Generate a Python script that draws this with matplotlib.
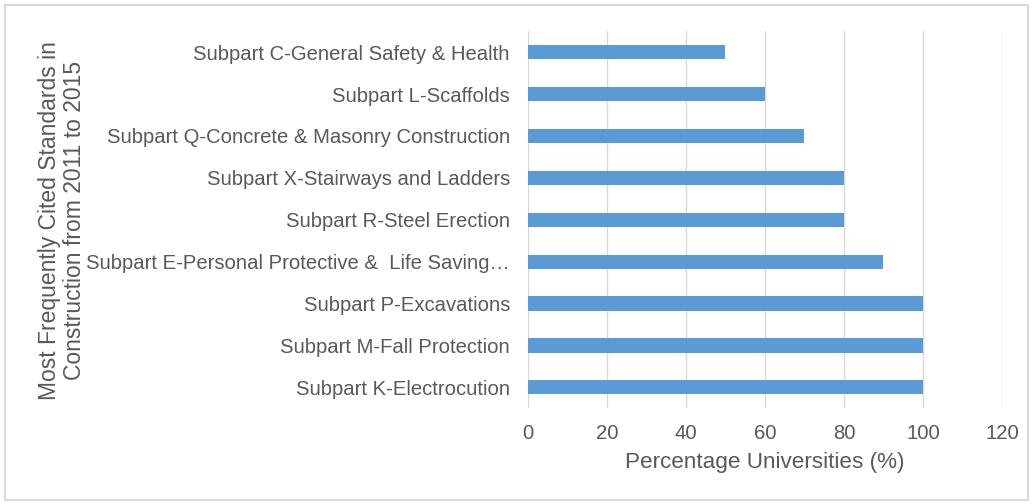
import matplotlib.pyplot as plt
from matplotlib.patches import Rectangle

plt.rcParams['font.family'] = ['Liberation Sans', 'DejaVu Sans']

standards = [
    "Subpart K-Electrocution",
    "Subpart M-Fall Protection",
    "Subpart P-Excavations",
    "Subpart E-Personal Protective &  Life Saving\u2026",
    "Subpart R-Steel Erection",
    "Subpart X-Stairways and Ladders",
    "Subpart Q-Concrete & Masonry Construction",
    "Subpart L-Scaffolds",
    "Subpart C-General Safety & Health",
]
percent = [100, 100, 100, 90, 80, 80, 70, 60, 50]
xticks = [0, 20, 40, 60, 80, 100, 120]

grey = '#595959'
fig = plt.figure(figsize=(10.34, 5.04), dpi=100)
ax = fig.add_axes([0.5106, 0.190, 0.4584, 0.748])

ypos = range(len(standards))
ax.barh(ypos, percent, height=0.34, color='#5B9BD5', zorder=3)
ax.set_yticks(list(ypos))
ax.set_yticklabels(standards)
ax.set_ylim(-0.5, len(standards) - 0.5)
ax.set_xlim(0, 120)
ax.set_xticks(xticks)
ax.grid(axis='x', color='#D9D9D9', linewidth=1, zorder=0)
for s in ax.spines.values():
    s.set_visible(False)
ax.tick_params(axis='both', length=0, labelsize=14.6, labelcolor=grey)
ax.tick_params(axis='y', pad=13)
ax.tick_params(axis='x', pad=11)
ax.set_xlabel("Percentage Universities (%)", fontsize=16.2, color=grey, labelpad=7)

fig.text(0.060, 0.562, "Most Frequently Cited Standards in\nConstruction from 2011 to 2015",
         rotation=90, ha='center', va='center', fontsize=16.5, color=grey, linespacing=1.12)

fig.patches.append(Rectangle((5 / 1034, 4 / 504), 1023 / 1034, 495 / 504,
                             transform=fig.transFigure, fill=False,
                             edgecolor='#D9D9D9', linewidth=1.5))

fig.savefig('out.png', dpi=100)
